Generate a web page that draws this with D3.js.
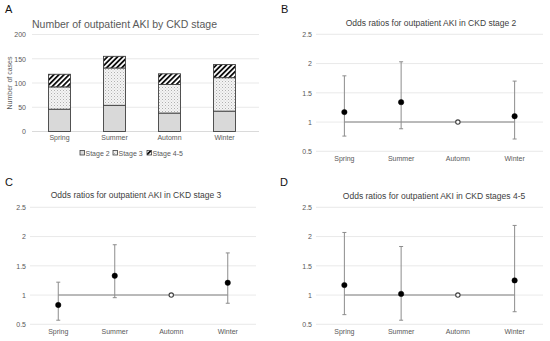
<!DOCTYPE html>
<html><head><meta charset="utf-8">
<script src="https://cdn.jsdelivr.net/npm/d3@7"></script>
<style>
html,body{margin:0;padding:0;background:#fff;}
svg{display:block;font-family:"Liberation Sans",Arial,sans-serif;}
</style></head>
<body>
<svg id="c" width="550" height="341"></svg>
<script>
const seasons = ["Spring","Summer","Automn","Winter"];
// Panel A: stacked counts
const stage2 = [46, 54, 38, 42];
const stage3 = [46, 77, 59, 69];
const stage45 = [26, 24, 22, 27];
const countTicks = [0, 50, 100, 150, 200];
const stageNames = ["Stage 2","Stage 3","Stage 4-5"];
// Odds ratios (point, lower, upper)
const orTicks = [0.5, 1, 1.5, 2, 2.5];
const orB = [1.17, 1.34, 1.00, 1.10];
const loB = [0.76, 0.885, null, 0.71];
const hiB = [1.79, 2.03, null, 1.70];
const orC = [0.83, 1.33, 1.00, 1.21];
const loC = [0.57, 0.955, null, 0.86];
const hiC = [1.22, 1.86, null, 1.72];
const orD = [1.17, 1.02, 1.00, 1.25];
const loD = [0.665, 0.57, null, 0.715];
const hiD = [2.07, 1.83, null, 2.19];

const svg = d3.select("#c");
const defs = svg.append("defs");
const dots = defs.append("pattern").attr("id","dots").attr("patternUnits","userSpaceOnUse").attr("width",3).attr("height",3);
dots.append("rect").attr("width",3).attr("height",3).attr("fill","#f4f4f4");
dots.append("rect").attr("x",0).attr("y",0).attr("width",1).attr("height",1).attr("fill","#b0b0b0");
dots.append("rect").attr("x",1.5).attr("y",1.5).attr("width",1).attr("height",1).attr("fill","#c8c8c8");
const hatch = defs.append("pattern").attr("id","hatch").attr("patternUnits","userSpaceOnUse").attr("width",3.6).attr("height",3.6).attr("patternTransform","rotate(45)");
hatch.append("rect").attr("width",3.6).attr("height",3.6).attr("fill","#fff");
hatch.append("rect").attr("x",0).attr("width",1.8).attr("height",3.6).attr("fill","#111");

const gridCol = "#e3e3e3", tickCol = "#595959";

// ---------- Panel A ----------
{
  const g = svg.append("g");
  g.append("text").attr("x",5).attr("y",13).attr("font-size",11).attr("fill","#111").text("A");
  g.append("text").attr("x",32).attr("y",28).attr("font-size",10.5).attr("fill","#595959").text("Number of outpatient AKI by CKD stage");
  const x = d3.scaleBand().domain(seasons).range([32,252]).paddingInner(0.6).paddingOuter(0.3);
  const y = d3.scaleLinear().domain([0,200]).range([131.5,34.5]);
  g.append("g").selectAll("line").data(countTicks).join("line")
    .attr("x1",32).attr("x2",259).attr("y1",d=>y(d)).attr("y2",d=>y(d))
    .attr("stroke",d=>d===0?"#d0d0d0":gridCol).attr("stroke-width",0.8);
  const ax = d3.axisLeft(y).tickValues(countTicks).tickSize(0).tickPadding(0);
  const ag = g.append("g").attr("transform","translate(26,0)").call(ax);
  ag.select(".domain").remove();
  ag.selectAll("text").attr("font-size",7).attr("fill",tickCol).attr("font-family","Liberation Sans,Arial,sans-serif");
  const xa = d3.axisBottom(x).tickSize(0).tickPadding(0);
  const xg = g.append("g").attr("transform","translate(0,135.5)").call(xa);
  xg.select(".domain").remove();
  xg.selectAll("text").attr("font-size",7).attr("fill",tickCol).attr("font-family","Liberation Sans,Arial,sans-serif");
  g.append("text").attr("transform","translate(12,83) rotate(-90)").attr("text-anchor","middle")
    .attr("font-size",7).attr("fill",tickCol).text("Number of cases");
  const series = [stage2, stage3, stage45];
  const fills = ["#d9d9d9","url(#dots)","url(#hatch)"];
  const stacked = seasons.map((s,i)=>{let b=0; return series.map((arr,k)=>{const r={s,k,y0:b,y1:b+arr[i]}; b+=arr[i]; return r;});}).flat();
  g.append("g").selectAll("rect").data(stacked).join("rect")
    .attr("x",d=>x(d.s)).attr("width",x.bandwidth())
    .attr("y",d=>y(d.y1)).attr("height",d=>y(d.y0)-y(d.y1))
    .attr("fill",d=>fills[d.k]).attr("stroke","#404040").attr("stroke-width",0.9);
  // legend
  const lx = [80,113,147];
  const lg = g.append("g");
  stageNames.forEach((n,k)=>{
    lg.append("rect").attr("x",lx[k]).attr("y",150.5).attr("width",4.5).attr("height",4.5)
      .attr("fill",fills[k]).attr("stroke","#404040").attr("stroke-width",0.8);
    lg.append("text").attr("x",lx[k]+5.5).attr("y",155.5).attr("font-size",7).attr("fill",tickCol).text(n);
  });
}

// ---------- OR panels ----------
function orPanel(cfg){
  const g = svg.append("g");
  g.append("text").attr("x",cfg.lx).attr("y",cfg.ly).attr("font-size",11).attr("fill","#111").text(cfg.letter);
  g.append("text").attr("x",cfg.tx).attr("y",cfg.ty).attr("text-anchor","middle").attr("font-size",8.5).attr("fill","#404040").text(cfg.title);
  const x = d3.scaleBand().domain(seasons).range([cfg.x0,cfg.x1]);
  const y = d3.scaleLinear().domain([0.5,2.5]).range([cfg.yb,cfg.yt]);
  g.append("g").selectAll("line").data(orTicks).join("line")
    .attr("x1",cfg.x0).attr("x2",cfg.x1).attr("y1",d=>y(d)).attr("y2",d=>y(d))
    .attr("stroke",gridCol).attr("stroke-width",0.8);
  const ag = g.append("g").attr("transform",`translate(${cfg.x0-4},0)`).call(d3.axisLeft(y).tickValues(orTicks).tickSize(0).tickPadding(0).tickFormat(d3.format("")));
  ag.select(".domain").remove();
  ag.selectAll("text").attr("font-size",7).attr("fill",tickCol).attr("font-family","Liberation Sans,Arial,sans-serif");
  const xg = g.append("g").attr("transform",`translate(0,${cfg.yb+4.5})`).call(d3.axisBottom(x).tickSize(0).tickPadding(0));
  xg.select(".domain").remove();
  xg.selectAll("text").attr("font-size",7).attr("fill",tickCol).attr("font-family","Liberation Sans,Arial,sans-serif");
  const cx = s=>x(s)+x.bandwidth()/2;
  // reference line at 1
  g.append("line").attr("x1",cx(seasons[0])).attr("x2",cx(seasons[3])).attr("y1",y(1)).attr("y2",y(1))
    .attr("stroke","#a6a6a6").attr("stroke-width",1.4);
  const rows = seasons.map((s,i)=>({s,or:cfg.or[i],lo:cfg.lo[i],hi:cfg.hi[i]}));
  const eb = rows.filter(d=>d.lo!==null);
  g.append("g").selectAll("line").data(eb).join("line")
    .attr("x1",d=>cx(d.s)).attr("x2",d=>cx(d.s)).attr("y1",d=>y(d.lo)).attr("y2",d=>y(d.hi))
    .attr("stroke","#8c8c8c").attr("stroke-width",1);
  ["lo","hi"].forEach(k=>{
    g.append("g").selectAll("line").data(eb).join("line")
      .attr("x1",d=>cx(d.s)-2).attr("x2",d=>cx(d.s)+2).attr("y1",d=>y(d[k])).attr("y2",d=>y(d[k]))
      .attr("stroke","#8c8c8c").attr("stroke-width",1);
  });
  g.append("g").selectAll("circle").data(rows).join("circle")
    .attr("cx",d=>cx(d.s)).attr("cy",d=>y(d.or))
    .attr("r",d=>d.lo===null?2.2:2.7)
    .attr("fill",d=>d.lo===null?"#fff":"#000")
    .attr("stroke",d=>d.lo===null?"#404040":"#000").attr("stroke-width",d=>d.lo===null?1.1:0.5);
}
orPanel({letter:"B",lx:281,ly:13,title:"Odds ratios for outpatient AKI in CKD stage 2",tx:431,ty:26,
  x0:316,x1:543,yt:34.3,yb:151.3,or:orB,lo:loB,hi:hiB});
orPanel({letter:"C",lx:5,ly:186,title:"Odds ratios for outpatient AKI in CKD stage 3",tx:136,ty:198,
  x0:30,x1:256,yt:207.3,yb:324.3,or:orC,lo:loC,hi:hiC});
orPanel({letter:"D",lx:280,ly:186,title:"Odds ratios for outpatient AKI in CKD stages 4-5",tx:434,ty:199,
  x0:316,x1:543,yt:207.3,yb:324.3,or:orD,lo:loD,hi:hiD});
</script>
</body></html>
